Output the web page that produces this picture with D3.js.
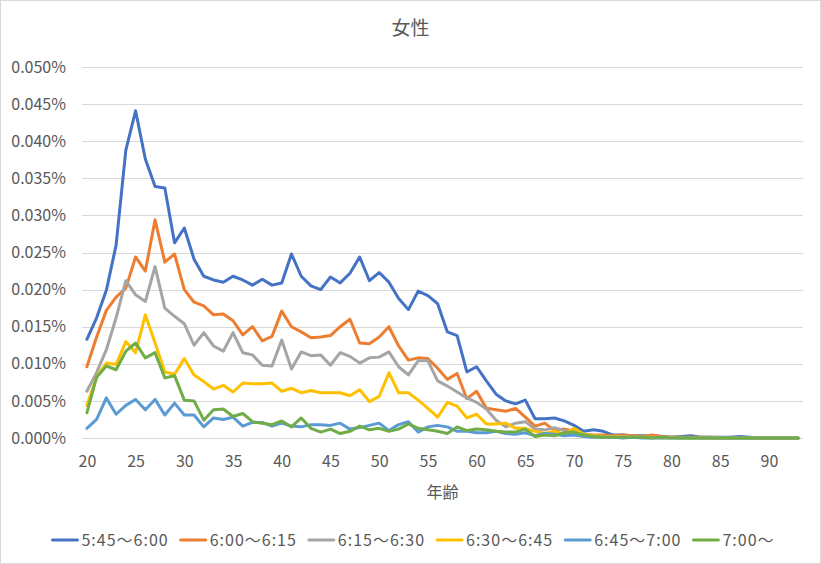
<!DOCTYPE html>
<html lang="ja">
<head>
    <meta charset="UTF-8">
    <title>女性</title>
    <script src="https://d3js.org/d3.v7.min.js"></script>
    <style>
        body { margin: 0; background: #fff; }
        svg { display: block; font-family: "Noto Sans CJK JP", "Noto Sans", sans-serif; }
    </style>
</head>
<body>
<svg id="chart" width="821" height="564"></svg>

<script type="text/javascript">

// ages 20..93, values in percent
var ages = d3.range(20, 94);
var tickAges = [20, 25, 30, 35, 40, 45, 50, 55, 60, 65, 70, 75, 80, 85, 90];
var yTicks = [0, 0.005, 0.01, 0.015, 0.02, 0.025, 0.03, 0.035, 0.04, 0.045, 0.05];
var seriesNames = ["5:45～6:00", "6:00～6:15", "6:15～6:30", "6:30～6:45", "6:45～7:00", "7:00～"];
var colors = ["#4472C4", "#ED7D31", "#A5A5A5", "#FFC000", "#5B9BD5", "#70AD47"];

var s0545 = [0.0133, 0.0162, 0.0199, 0.0260, 0.0388, 0.0441, 0.0376, 0.0339, 0.0337, 0.0263,
             0.0283, 0.0241, 0.0218, 0.0213, 0.0210, 0.0218, 0.0213, 0.0206, 0.0214, 0.0206,
             0.0209, 0.0248, 0.0218, 0.0205, 0.0200, 0.0217, 0.0209, 0.0222, 0.0244, 0.0212,
             0.0223, 0.0210, 0.0188, 0.0173, 0.0198, 0.0192, 0.0181, 0.0143, 0.0138, 0.0089,
             0.0096, 0.0077, 0.0059, 0.0050, 0.0046, 0.0051, 0.0026, 0.0026, 0.0027, 0.0023,
             0.0017, 0.0009, 0.0011, 0.0009, 0.0004, 0.0004, 0.0003, 0.0003, 0.0003, 0.0002,
             0.0001, 0.0002, 0.0003, 0.0001, 0.0001, 0.0001, 0.0001, 0.0002, 0.0001, 0.0000,
             0.0000, 0.0000, 0.0000, 0.0000];
var s0600 = [0.0096, 0.0136, 0.0172, 0.0190, 0.0202, 0.0244, 0.0225, 0.0294, 0.0237, 0.0248,
             0.0200, 0.0183, 0.0178, 0.0166, 0.0167, 0.0158, 0.0139, 0.0150, 0.0131, 0.0137,
             0.0171, 0.0150, 0.0143, 0.0135, 0.0136, 0.0138, 0.0150, 0.0160, 0.0128, 0.0127,
             0.0136, 0.0150, 0.0124, 0.0105, 0.0108, 0.0107, 0.0094, 0.0079, 0.0087, 0.0053,
             0.0063, 0.0040, 0.0038, 0.0036, 0.0040, 0.0028, 0.0016, 0.0020, 0.0010, 0.0012,
             0.0009, 0.0005, 0.0004, 0.0004, 0.0003, 0.0004, 0.0003, 0.0002, 0.0004, 0.0002,
             0.0001, 0.0001, 0.0001, 0.0001, 0.0001, 0.0000, 0.0000, 0.0000, 0.0000, 0.0000,
             0.0000, 0.0000, 0.0000, 0.0000];
var s0615 = [0.0063, 0.0088, 0.0119, 0.0162, 0.0212, 0.0193, 0.0184, 0.0231, 0.0175, 0.0164,
             0.0154, 0.0125, 0.0142, 0.0124, 0.0117, 0.0142, 0.0115, 0.0112, 0.0098, 0.0097,
             0.0132, 0.0093, 0.0116, 0.0111, 0.0112, 0.0098, 0.0115, 0.0110, 0.0101, 0.0108,
             0.0109, 0.0116, 0.0096, 0.0085, 0.0104, 0.0104, 0.0077, 0.0070, 0.0062, 0.0054,
             0.0048, 0.0039, 0.0024, 0.0015, 0.0020, 0.0022, 0.0012, 0.0011, 0.0014, 0.0010,
             0.0006, 0.0003, 0.0003, 0.0002, 0.0002, 0.0002, 0.0001, 0.0001, 0.0001, 0.0001,
             0.0001, 0.0001, 0.0000, 0.0001, 0.0000, 0.0000, 0.0000, 0.0000, 0.0000, 0.0000,
             0.0000, 0.0000, 0.0000, 0.0000];
var s0630 = [0.0044, 0.0082, 0.0101, 0.0099, 0.0130, 0.0115, 0.0166, 0.0128, 0.0089, 0.0086,
             0.0107, 0.0085, 0.0076, 0.0066, 0.0071, 0.0062, 0.0074, 0.0073, 0.0073, 0.0074,
             0.0063, 0.0067, 0.0061, 0.0064, 0.0061, 0.0061, 0.0061, 0.0057, 0.0065, 0.0049,
             0.0056, 0.0088, 0.0061, 0.0061, 0.0051, 0.0040, 0.0028, 0.0048, 0.0043, 0.0027,
             0.0032, 0.0019, 0.0019, 0.0020, 0.0013, 0.0013, 0.0009, 0.0006, 0.0009, 0.0005,
             0.0013, 0.0005, 0.0003, 0.0002, 0.0002, 0.0001, 0.0001, 0.0001, 0.0001, 0.0000,
             0.0001, 0.0000, 0.0000, 0.0000, 0.0000, 0.0000, 0.0000, 0.0000, 0.0000, 0.0000,
             0.0000, 0.0000, 0.0000, 0.0000];
var s0645 = [0.0013, 0.0025, 0.0054, 0.0032, 0.0044, 0.0052, 0.0038, 0.0052, 0.0031, 0.0047,
             0.0031, 0.0031, 0.0015, 0.0027, 0.0025, 0.0028, 0.0016, 0.0021, 0.0021, 0.0016,
             0.0020, 0.0016, 0.0015, 0.0018, 0.0018, 0.0017, 0.0020, 0.0012, 0.0014, 0.0017,
             0.0020, 0.0010, 0.0018, 0.0022, 0.0008, 0.0015, 0.0017, 0.0015, 0.0009, 0.0009,
             0.0007, 0.0007, 0.0009, 0.0006, 0.0005, 0.0007, 0.0003, 0.0006, 0.0005, 0.0003,
             0.0004, 0.0002, 0.0001, 0.0001, 0.0001, 0.0000, 0.0001, 0.0000, 0.0000, 0.0000,
             0.0000, 0.0000, 0.0000, 0.0000, 0.0000, 0.0000, 0.0000, 0.0000, 0.0000, 0.0000,
             0.0000, 0.0000, 0.0000, 0.0000];
var s0700 = [0.0034, 0.0082, 0.0097, 0.0092, 0.0117, 0.0128, 0.0108, 0.0115, 0.0081, 0.0084,
             0.0051, 0.0050, 0.0024, 0.0038, 0.0039, 0.0029, 0.0033, 0.0022, 0.0020, 0.0018,
             0.0023, 0.0015, 0.0027, 0.0013, 0.0008, 0.0012, 0.0006, 0.0009, 0.0016, 0.0011,
             0.0013, 0.0009, 0.0012, 0.0019, 0.0013, 0.0011, 0.0009, 0.0006, 0.0015, 0.0010,
             0.0012, 0.0011, 0.0009, 0.0008, 0.0008, 0.0012, 0.0002, 0.0004, 0.0003, 0.0007,
             0.0008, 0.0004, 0.0002, 0.0001, 0.0001, 0.0001, 0.0001, 0.0001, 0.0000, 0.0001,
             0.0000, 0.0000, 0.0000, 0.0000, 0.0000, 0.0000, 0.0000, 0.0000, 0.0000, 0.0000,
             0.0000, 0.0000, 0.0000, 0.0000];

var allSeries = [s0545, s0600, s0615, s0630, s0645, s0700];

var width = 821, height = 564;
var plotLeft = 82, plotRight = 803, plotTop = 67, plotBottom = 438;

var svg = d3.select("#chart");

// chart border
svg.append("rect")
    .attr("x", 0.5).attr("y", 0.5)
    .attr("width", width - 1).attr("height", height - 1)
    .attr("fill", "#fff")
    .attr("stroke", "#D9D9D9");

var x = d3.scalePoint().domain(ages).range([plotLeft, plotRight]).padding(0.5);
var y = d3.scaleLinear().domain([0, 0.05]).range([plotBottom, plotTop]);

// gridlines
svg.append("g")
    .selectAll("line")
    .data(yTicks)
    .enter()
    .append("line")
    .attr("x1", plotLeft).attr("x2", plotRight)
    .attr("y1", function(d) { return Math.round(y(d)) + 0.5; })
    .attr("y2", function(d) { return Math.round(y(d)) + 0.5; })
    .attr("stroke", "#D9D9D9")
    .attr("stroke-width", 1);

// y axis labels
var yAxis = d3.axisLeft(y)
    .tickValues(yTicks)
    .tickSize(0)
    .tickPadding(16)
    .tickFormat(function(d) { return d.toFixed(3) + "%"; });

svg.append("g")
    .attr("transform", "translate(" + plotLeft + ",0)")
    .call(yAxis)
    .call(function(g) { g.select(".domain").remove(); })
    .selectAll("text")
    .attr("font-size", 16)
    .attr("font-family", "\"Noto Sans CJK JP\", sans-serif")
    .attr("fill", "#595959");

// x axis labels
var xAxis = d3.axisBottom(x)
    .tickValues(tickAges)
    .tickSize(0)
    .tickPadding(18);

svg.append("g")
    .attr("transform", "translate(0," + plotBottom + ")")
    .call(xAxis)
    .call(function(g) { g.select(".domain").remove(); })
    .selectAll("text")
    .attr("font-size", 16)
    .attr("font-family", "\"Noto Sans CJK JP\", sans-serif")
    .attr("fill", "#595959");

// titles
svg.append("text")
    .attr("x", width / 2)
    .attr("y", 35)
    .attr("text-anchor", "middle")
    .attr("font-size", 19)
    .attr("fill", "#595959")
    .text("女性");

svg.append("text")
    .attr("x", (plotLeft + plotRight) / 2)
    .attr("y", 498)
    .attr("text-anchor", "middle")
    .attr("font-size", 16)
    .attr("fill", "#595959")
    .text("年齢");

// lines
var line = d3.line()
    .x(function(d, i) { return x(ages[i]); })
    .y(function(d) { return y(d); });

svg.append("g")
    .selectAll("path")
    .data(allSeries)
    .enter()
    .append("path")
    .attr("d", line)
    .attr("fill", "none")
    .attr("stroke", function(d, i) { return colors[i]; })
    .attr("stroke-width", 3)
    .attr("stroke-linejoin", "round")
    .attr("stroke-linecap", "round");

// legend
var legendY = 540, lineLen = 25, textGap = 4, itemGap = 12;
var legend = svg.append("g");

var items = legend.selectAll("g")
    .data(seriesNames)
    .enter()
    .append("g");

items.append("text")
    .attr("x", lineLen + textGap)
    .attr("y", 0)
    .attr("dy", "0.35em")
    .attr("font-size", 16)
    .attr("letter-spacing", "1px")
    .attr("fill", "#595959")
    .text(function(d) { return d; });

items.append("line")
    .attr("x1", 0).attr("x2", lineLen)
    .attr("y1", 0).attr("y2", 0)
    .attr("stroke", function(d, i) { return colors[i]; })
    .attr("stroke-width", 3)
    .attr("stroke-linecap", "round");

var widths = [];
items.each(function() {
    widths.push(lineLen + textGap + d3.select(this).select("text").node().getComputedTextLength());
});
var total = d3.sum(widths) + itemGap * (widths.length - 1);
var cx = width / 2 - total / 2 + 3;
items.attr("transform", function(d, i) {
    var pos = cx;
    cx += widths[i] + itemGap;
    return "translate(" + pos + "," + legendY + ")";
});

</script>

</body>
</html>
